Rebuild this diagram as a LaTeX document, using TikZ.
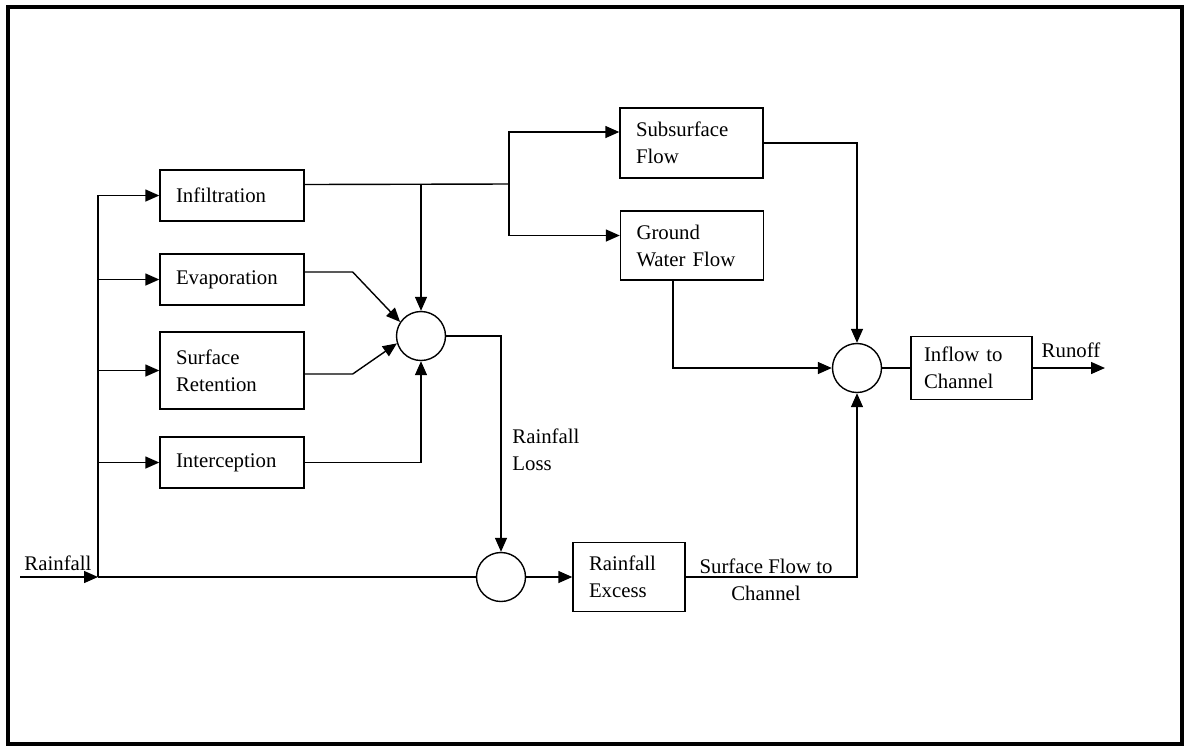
\documentclass[tikz,border=0pt]{standalone}
\usepackage{fontspec}
\setmainfont{Liberation Serif}
\usepackage{tikz}
\usetikzlibrary{arrows.meta}

\tikzset{
    blk/.style={draw, rectangle, line width=0.7pt, inner xsep=8pt, inner ysep=0pt,
        align=left, font=\fontsize{10.4}{13.5}\selectfont},
    junc/.style={draw, circle, line width=0.7pt, minimum size=24.5pt, inner sep=0pt},
    lbl/.style={font=\fontsize{10.4}{13.5}\selectfont, inner sep=0pt},
    flow/.style={line width=0.7pt},
    arr/.style={flow, -{Triangle[length=7pt, width=6pt]}}
}

\begin{document}
\begin{tikzpicture}[x=0.5pt, y=-0.5pt]
            \useasboundingbox (0,0) rectangle (1184,746);
            \draw[line width=1.6pt] (8,7) rectangle (1182,744);

            % loss boxes
            \node[blk, text width=56pt, minimum width=72pt, minimum height=25.5pt] (infil) at (232,195.5) {Infiltration};
            \node[blk, text width=56pt, minimum width=72pt, minimum height=25.5pt] (evap) at (232,279.5) {Evaporation};
            \node[blk, text width=56pt, minimum width=72pt, minimum height=38.5pt] (retn) at (232,370.5) {Surface\\Retention};
            \node[blk, text width=56pt, minimum width=72pt, minimum height=25.5pt] (intc) at (232,462.5) {Interception};

            \node[blk, text width=55.5pt, minimum width=71.5pt, minimum height=35pt] (subf) at (691.5,143) {Subsurface\\Flow};
            \node[blk, text width=55.5pt, minimum width=71.5pt, minimum height=34.5pt] (gwf) at (692,245.5) {Ground\\Water Flow};
            \node[blk, text width=40pt, minimum width=56pt, minimum height=34.5pt] (excess) at (629,577) {Rainfall\\Excess};
            \node[blk, inner xsep=6.5pt, text width=47.5pt, minimum width=60.5pt, minimum height=31.5pt] (inflow) at (971.5,368) {Inflow to\\Channel};

            \node[junc] (loss) at (421,336) {};
            \node[junc] (net) at (501,577) {};
            \node[junc] (chan) at (857,368) {};

            \coordinate (rain) at (20,577);
            \coordinate (split) at (98,577);
            \coordinate (fork) at (509,184);
            \coordinate (out) at (1105,368);

            \node[lbl] (rainlbl) at (58,563) {Rainfall};
            \node[lbl, align=left, anchor=west] (losslbl) at (512,450) {Rainfall\\Loss};
            \node[lbl, align=center] (sflbl) at (766,580) {Surface Flow to\\Channel};
            \node[lbl] (runlbl) at (1071,350) {Runoff};

            % rainfall split
            \draw[arr] (rain) -- (split);
            \draw[flow] (split) -- (net.west);
            \draw[arr] (split) |- (infil.west);
            \draw[arr] (split) |- (evap.west);
            \draw[arr] (split) |- (retn.west);
            \draw[arr] (split) |- (intc.west);

            % losses
            \draw[flow] ([yshift=5.5pt]infil.east) -- (fork);
            \draw[arr] (loss.north |- fork) -- (loss.north);
            \draw[arr] (fork) |- ([yshift=5.5pt]subf.west);
            \draw[arr] (fork) |- ([yshift=5pt]gwf.west);
            \draw[arr] ([yshift=3.75pt]evap.east) -- ++(48,0) -- (loss.146);
            \draw[arr] ([yshift=-1.75pt]retn.east) -- ++(48,0) -- (loss.197);
            \draw[arr] (intc.east) -| (loss.south);
            \draw[arr] (loss.east) -| (net.north);

            % to channel
            \draw[arr] (net.east) -- (excess.west);
            \draw[arr] (excess.east) -| (chan.south);
            \draw[arr] (subf.east) -| (chan.north);
            \draw[arr] ([xshift=-9.5pt]gwf.south) |- (chan.west);
            \draw[flow] (chan.east) -- (inflow.west);
            \draw[arr] (inflow.east) -- (out);
        \end{tikzpicture}
\end{document}
